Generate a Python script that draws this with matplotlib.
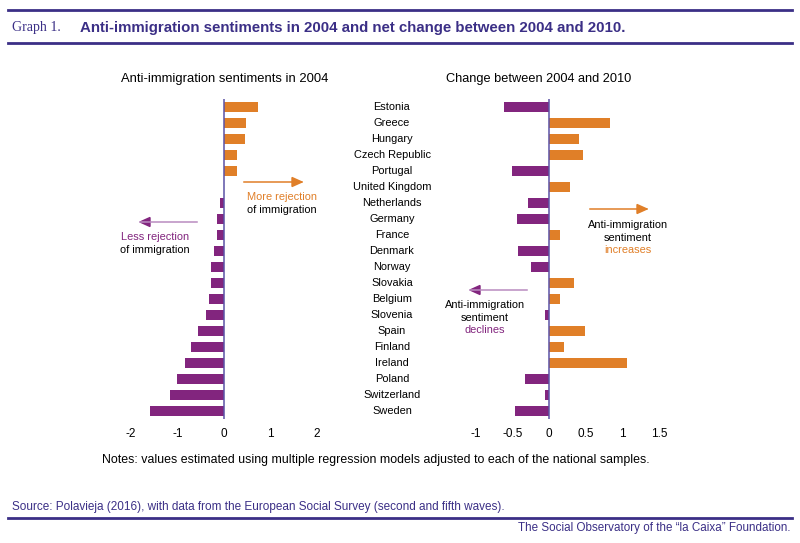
import numpy as np
import matplotlib.pyplot as plt

countries = ["Estonia", "Greece", "Hungary", "Czech Republic", "Portugal",
             "United Kingdom", "Netherlands", "Germany", "France", "Denmark",
             "Norway", "Slovakia", "Belgium", "Slovenia", "Spain", "Finland",
             "Ireland", "Poland", "Switzerland", "Sweden"]
sent_2004 = [0.73, 0.48, 0.45, 0.29, 0.28, 0.0, -0.09, -0.15, -0.16, -0.22,
             -0.27, -0.27, -0.33, -0.39, -0.56, -0.70, -0.83, -1.01, -1.17, -1.59]
change_04_10 = [-0.61, 0.83, 0.41, 0.47, -0.50, 0.28, -0.29, -0.44, 0.15, -0.42,
                -0.25, 0.34, 0.15, -0.05, 0.49, 0.21, 1.06, -0.33, -0.05, -0.47]
left_ticks = [-2, -1, 0, 1, 2]
right_ticks = [-1, -0.5, 0, 0.5, 1, 1.5]
right_ticklabels = ["-1", "-0.5", "0", "0.5", "1", "1.5"]

ORANGE = "#e07f28"
PURPLE = "#82257e"
NAVY = "#3b2f86"
AXLINE = "#5b52a6"
ARROW_PURPLE = "#b98bc0"

plt.rcParams['font.family'] = ['Liberation Sans', 'DejaVu Sans']

W, H = 800, 543
fig = plt.figure(figsize=(8, 5.43), dpi=100)


def fx(x):
    return x / W


def fy(y):
    return 1 - y / H


y = np.arange(len(countries))


def panel(rect, vals, xlim, ticks, ticklabels):
    ax = fig.add_axes(rect)
    cols = [ORANGE if v > 0 else PURPLE for v in vals]
    ax.barh(y, vals, height=0.62, color=cols)
    ax.set_xlim(*xlim)
    ax.set_ylim(len(countries) - 0.5, -0.5)
    ax.axvline(0, color=AXLINE, lw=1.1)
    for s in ax.spines.values():
        s.set_visible(False)
    ax.set_yticks([])
    ax.set_xticks(ticks)
    ax.set_xticklabels(ticklabels, fontsize=8.5)
    ax.tick_params(axis='x', length=0, pad=7)
    return ax


bot = fy(418.7)
hgt = 320 / H
axl = panel([fx(131), bot, 186 / W, hgt], sent_2004, (-2, 2), left_ticks,
            [str(t) for t in left_ticks])
axr = panel([fx(475.7), bot, 183.3 / W, hgt], change_04_10, (-1, 1.5),
            right_ticks, right_ticklabels)

# country labels in the middle
for i, c in enumerate(countries):
    fig.text(fx(392), fy(106.7 + 16 * i), c, fontsize=7.9, ha='center', va='center')

# panel titles
fig.text(fx(225), fy(79), "Anti-immigration sentiments in 2004", fontsize=9.4,
         ha='center', va='center')
fig.text(fx(539), fy(79), "Change between 2004 and 2010", fontsize=9.2,
         ha='center', va='center')


def arrow(x0, x1, yy, lc, hc):
    fig.add_artist(plt.Line2D([fx(x0), fx(x1)], [fy(yy), fy(yy)], color=lc, lw=1.1))
    fig.patches.append(plt.Polygon(
        [[fx(x1), fy(yy)], [fx(x1 - np.sign(x1 - x0) * 10), fy(yy - 4.5)],
         [fx(x1 - np.sign(x1 - x0) * 10), fy(yy + 4.5)]],
        closed=True, color=hc, transform=fig.transFigure, figure=fig))


# left panel annotations
arrow(244, 302, 182, ORANGE, ORANGE)
fig.text(fx(247), fy(197), "More rejection", fontsize=7.9, color=ORANGE, va='center')
fig.text(fx(247), fy(210), "of immigration", fontsize=7.9, va='center')
arrow(197, 140, 222, ARROW_PURPLE, PURPLE)
fig.text(fx(155), fy(237), "Less rejection", fontsize=7.9, color=PURPLE,
         ha='center', va='center')
fig.text(fx(155), fy(250), "of immigration", fontsize=7.9, ha='center', va='center')

# right panel annotations
arrow(590, 647, 209, ORANGE, ORANGE)
fig.text(fx(628), fy(225), "Anti-immigration", fontsize=7.9, ha='center', va='center')
fig.text(fx(628), fy(238), "sentiment", fontsize=7.9, ha='center', va='center')
fig.text(fx(628), fy(250), "increases", fontsize=7.9, color=ORANGE, ha='center', va='center')
arrow(527, 470, 290, ARROW_PURPLE, PURPLE)
fig.text(fx(485), fy(305), "Anti-immigration", fontsize=7.9, ha='center', va='center')
fig.text(fx(485), fy(318), "sentiment", fontsize=7.9, ha='center', va='center')
fig.text(fx(485), fy(330), "declines", fontsize=7.9, color=PURPLE, ha='center', va='center')

# header
for yy in (10, 43, 518):
    fig.add_artist(plt.Line2D([fx(8), fx(792)], [fy(yy), fy(yy)], color=NAVY, lw=2))
fig.text(fx(12), fy(28), "Graph 1.", fontsize=10, color=NAVY, va='center',
         family=['Liberation Serif', 'DejaVu Serif'])
fig.text(fx(80), fy(28), "Anti-immigration sentiments in 2004 and net change between 2004 and 2010.",
         fontsize=10.8, color=NAVY, weight='bold', va='center')

# footer
fig.text(fx(376), fy(460), "Notes: values estimated using multiple regression models adjusted to each of the national samples.",
         fontsize=8.9, ha='center', va='center')
fig.text(fx(12), fy(507), "Source: Polavieja (2016), with data from the European Social Survey (second and fifth waves).",
         fontsize=8.5, color=NAVY, va='center')
fig.text(fx(790), fy(528), "The Social Observatory of the \u201cla Caixa\u201d Foundation.",
         fontsize=8.4, color=NAVY, ha='right', va='center')

fig.savefig("out.png", dpi=100)
